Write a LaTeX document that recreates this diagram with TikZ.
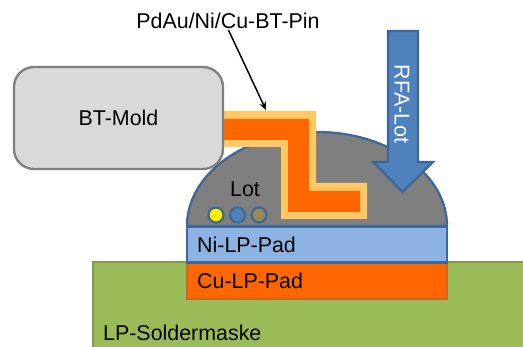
\documentclass[tikz,border=0pt]{standalone}
\usepackage{fontspec}
\setmainfont{Liberation Sans}
\usetikzlibrary{arrows.meta}
\definecolor{moldfill}{HTML}{D9D9D9}
\definecolor{moldline}{HTML}{7F7F7F}
\definecolor{pinouter}{HTML}{FFC864}
\definecolor{copper}{HTML}{FF6600}
\definecolor{solder}{HTML}{7F7F7F}
\definecolor{blueline}{HTML}{3F6797}
\definecolor{bluefill}{HTML}{4F81BD}
\definecolor{nifill}{HTML}{8DB3E2}
\definecolor{maskfill}{HTML}{9BBB59}
\definecolor{maskline}{HTML}{7F9A48}
\definecolor{culine}{HTML}{C46A2A}
\definecolor{imc}{HTML}{948A54}
\tikzset{
  x=1pt,y=-1pt,
  every node/.style={font=\fontsize{21.4}{25}\selectfont,inner sep=0pt,text=black},
  blueshape/.style={draw=blueline,line width=2.3pt,line join=miter},
  grain/.style={circle,draw=blueline,line width=2.2pt,minimum size=15pt},
}
\begin{document}
\begin{tikzpicture}
\clip (0,0) rectangle (523,347);
\fill[white] (0,0) rectangle (523,347);
% solder mask
\draw[fill=maskfill,draw=maskline,line width=2.3pt] (93,262) rectangle (540,370);
\node[anchor=west] (mask) at (103,333) {LP-Soldermaske};
% solder dome
\draw[blueshape,fill=solder] (187,226) arc[start angle=180,end angle=360,x radius=130,y radius=94] -- cycle;
% pads
\draw[fill=copper,draw=culine,line width=2.3pt] (187,263) rectangle (447,299);
\draw[blueshape,fill=nifill] (187,226.5) rectangle (447,262.5);
\node[anchor=west] (ni) at (197,245) {Ni-LP-Pad};
\node[anchor=west] (cu) at (197,281) {Cu-LP-Pad};
% pin
\fill[pinouter] (210,111) -- (316,111) -- (316,183) -- (367,183) -- (367,219) -- (281,219) -- (281,147) -- (210,147) -- cycle;
\fill[copper] (210,119) -- (309,119) -- (309,191) -- (360,191) -- (360,212) -- (288,212) -- (288,140) -- (210,140) -- cycle;
\coordinate (pintop) at (266,110);
% mold
\node[draw=moldline,fill=moldfill,line width=2.3pt,rounded corners=20pt,minimum width=209pt,minimum height=102pt] (mold) at (118.5,118) {BT-Mold};
% solder label and grains
\node (lot) at (245,189) {Lot};
\node[grain,fill=yellow] (g1) at (216,215) {};
\node[grain,fill=bluefill] (g2) at (237.5,215) {};
\node[grain,fill=imc] (g3) at (259,215) {};
% RFA arrow
\draw[blueshape,fill=bluefill] (388,31) -- (418,31) -- (418,162) -- (433,162) -- (402.5,192) -- (373,162) -- (388,162) -- cycle;
\node[rotate=-90,text=white] (rfa) at (402,104) {RFA-Lot};
% pin label
\node (pinlabel) at (228,21) {PdAu/Ni/Cu-BT-Pin};
\draw[-{Stealth[length=8pt,width=7pt]},line width=1.5pt,shorten <=1pt] (pinlabel.south) -- (pintop);
\end{tikzpicture}
\end{document}
